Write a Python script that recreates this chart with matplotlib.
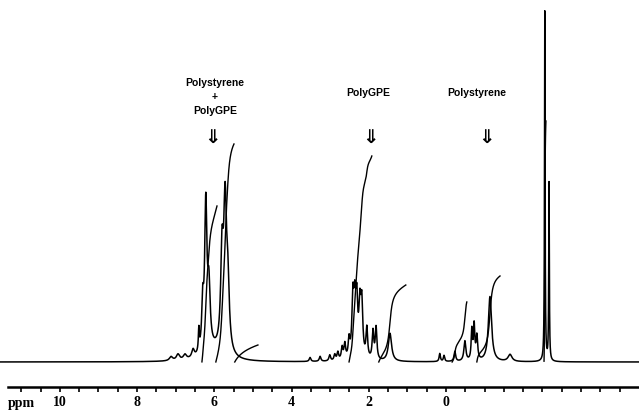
import numpy as np
import matplotlib.pyplot as plt

# peak list: position [ppm], height, half width [ppm]
peak_ppm = [7.12, 6.94, 6.76, 6.55, 6.40, 6.30, 6.22, 6.14, 5.80, 5.72, 5.65, 6.00,
            3.52, 3.26, 3.01, 2.88, 2.80, 2.69, 2.62, 2.51,
            2.41, 2.36, 2.31, 2.23, 2.18, 2.05, 1.89, 1.81, 1.45,
            0.16, 0.05, -0.23, -0.49, -0.67, -0.73, -0.80, -1.14, -1.66,
            -2.56, -2.67]
peak_height = [4, 6, 5, 8, 22, 45, 145, 60, 90, 140, 60, 8,
               4, 5, 6, 6, 8, 12, 15, 18,
               58, 48, 52, 48, 52, 30, 28, 32, 28,
               8, 6, 10, 20, 30, 34, 24, 65, 7,
               350, 178]
peak_width = [0.05, 0.05, 0.05, 0.04, 0.015, 0.03, 0.035, 0.04, 0.04, 0.045, 0.045, 0.25,
              0.025, 0.025, 0.025, 0.025, 0.025, 0.025, 0.025, 0.025,
              0.03, 0.03, 0.03, 0.03, 0.03, 0.025, 0.025, 0.025, 0.05,
              0.02, 0.02, 0.025, 0.03, 0.02, 0.02, 0.025, 0.05, 0.06,
              0.009, 0.009]

# integral segments: start, end [ppm] and rise height
integ_start = [6.32, 5.96, 5.47, 2.51, 1.74, -0.16, -0.80, -2.54]
integ_end = [5.93, 5.49, 4.87, 1.92, 1.04, -0.54, -1.40, -2.59]
integ_rise = [156, 218, 17, 206, 77, 60, 86, 241]

labels = ["Polystyrene\n+\nPolyGPE", "PolyGPE", "Polystyrene"]
label_ppm = [5.98, 2.02, -0.80]
arrow_ppm = [6.06, 1.97, -1.04]

tick_ppm = np.arange(-4.5, 11.5, 0.5)
label_ticks = [10, 8, 6, 4, 2, 0]

ppm = np.linspace(11.6, -5.0, 40000)
spec = np.zeros_like(ppm)
for p, h, w in zip(peak_ppm, peak_height, peak_width):
    spec += h * w**2 / ((ppm - p)**2 + w**2)

fig = plt.figure(figsize=(6.39, 4.14), dpi=100)
ax = fig.add_axes([0, 0, 1, 1])
ax.plot(ppm, spec, color='black', lw=1.1)

for s, e, r in zip(integ_start, integ_end, integ_rise):
    m = (ppm <= s) & (ppm >= e)
    cum = np.cumsum(spec[m] + 1.0)
    ax.plot(ppm[m], cum / cum[-1] * r, color='black', lw=1.0)

ax.set_xlim(11.55, -5.0)
ax.set_ylim(-51, 363)

for sp in ['top', 'right', 'left']:
    ax.spines[sp].set_visible(False)
ax.spines['bottom'].set_position(('data', -25))
ax.spines['bottom'].set_bounds(-5.0, 11.35)
ax.spines['bottom'].set_linewidth(1.8)
ax.set_yticks([])
ax.set_xticks(tick_ppm)
ax.set_xticklabels([str(int(t)) if t in label_ticks else '' for t in tick_ppm],
                   fontfamily='Liberation Serif', fontweight='bold', fontsize=10)
ax.tick_params(axis='x', direction='out', length=3.5, width=1.2, pad=2)
ax.text(11.0, -41, 'ppm', fontfamily='Liberation Serif', fontweight='bold',
        fontsize=10, ha='center', va='center')

for t, x in zip(labels, label_ppm):
    ax.text(x, 270 if '\n' not in t else 266, t, ha='center', va='center',
            fontsize=7.5, fontweight='bold', fontfamily='Liberation Sans',
            linespacing=1.45)
for x in arrow_ppm:
    ax.text(x, 226, '\u21d3', ha='center', va='center', fontsize=14,
            fontweight='bold', fontfamily='DejaVu Sans')

plt.savefig('out.png', dpi=100)
